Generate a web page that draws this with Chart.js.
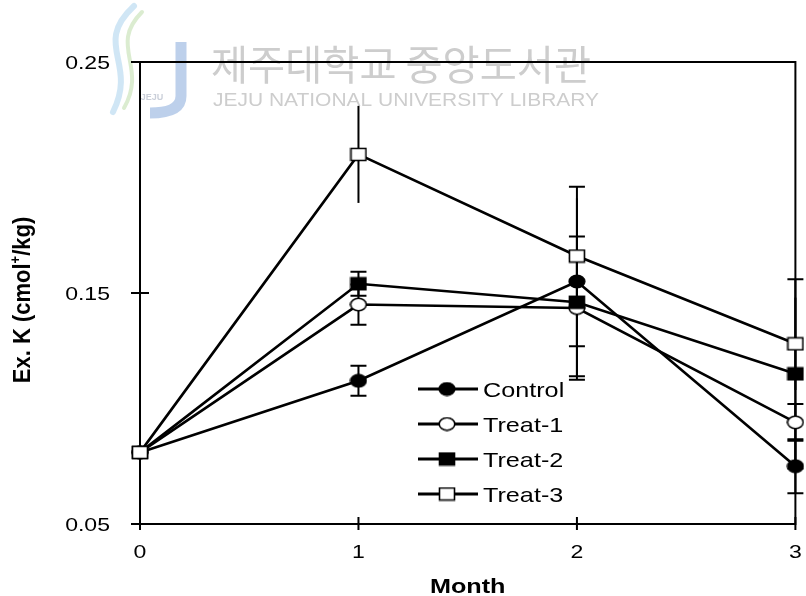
<!DOCTYPE html>
<html>
<head>
<meta charset="utf-8">
<script src="https://cdn.jsdelivr.net/npm/chart.js@4/dist/chart.umd.min.js"></script>
<style>
  html, body { margin: 0; padding: 0; background: #fff; }
  canvas { display: block; }
</style>
</head>
<body>
<canvas id="chart" width="806" height="596"></canvas>
<script>
// Exchangeable K over time, by treatment
const months = [0, 1, 2, 3];
const xTicks = [0, 1, 2, 3];
const yTicks = [0.05, 0.15, 0.25];

const control = [0.081, 0.112, 0.155, 0.075];
const treat1  = [0.081, 0.145, 0.1435, 0.094];
const treat2  = [0.081, 0.154, 0.146, 0.115];
const treat3  = [0.081, 0.210, 0.166, 0.128];

// standard errors
const controlErr = [0, 0.0065, 0.041, 0.0117];
const treat1Err  = [0, 0.0087, 0.031, 0.008];
const treat2Err  = [0, 0.0052, 0.019, 0.041];
const treat3Err  = [0, 0.021, 0.025, 0.02];

const seriesNames = ['Control', 'Treat-1', 'Treat-2', 'Treat-3'];
const xTitle = 'Month';
const yTitleMain = 'Ex. K (cmol';
const yTitleSup = '+';
const yTitleEnd = '/kg)';
const libraryName = '제주대학교 중앙도서관';
const libraryNameEn = 'JEJU NATIONAL UNIVERSITY LIBRARY';

const FONT = '"Liberation Sans", Arial, Helvetica, sans-serif';

// marker bitmaps (slightly wide ellipses / boxes)
function makeMarker(shape, filled) {
  const c = document.createElement('canvas');
  c.width = 18; c.height = 15;
  const g = c.getContext('2d');
  g.lineWidth = 1.6;
  g.strokeStyle = '#000';
  g.fillStyle = filled ? '#000' : '#fff';
  g.beginPath();
  if (shape === 'circle') g.ellipse(9, 7.5, 7.8, 6.2, 0, 0, Math.PI * 2);
  else g.rect(1.5, 1.5, 15, 12);
  g.fill();
  g.stroke();
  return c;
}

const markers = [
  makeMarker('circle', true),
  makeMarker('circle', false),
  makeMarker('rect', true),
  makeMarker('rect', false)
];
const values = [control, treat1, treat2, treat3];
const errors = [controlErr, treat1Err, treat2Err, treat3Err];
const hasCaps = [true, true, true, false];
const drawOrder = [3, 2, 1, 0];

const datasets = seriesNames.map((name, k) => ({
  label: name,
  data: months.map((m, i) => ({ x: m, y: values[k][i] })),
  errors: errors[k],
  caps: hasCaps[k],
  marker: markers[k],
  borderColor: '#000',
  borderWidth: 2.6,
  pointStyle: markers[k],
  pointRadius: 8,
  pointHoverRadius: 8,
  tension: 0,
  fill: false,
  clip: false,
  order: drawOrder[k]
}));

function stretchedText(ctx, text, x, y, font, align, sx) {
  ctx.save();
  ctx.font = font;
  ctx.textAlign = align;
  ctx.textBaseline = 'alphabetic';
  ctx.fillStyle = '#000';
  ctx.translate(x, y);
  ctx.scale(sx, 1);
  ctx.fillText(text, 0, 0);
  ctx.restore();
}

// faint library mark behind the plot
const watermark = {
  id: 'watermark',
  beforeDraw(chart) {
    const g = chart.ctx;
    g.save();
    g.lineCap = 'round';
    g.strokeStyle = 'rgba(150,200,232,0.45)';
    g.lineWidth = 6;
    g.beginPath(); g.moveTo(134, 6); g.bezierCurveTo(92, 45, 138, 62, 113, 112); g.stroke();
    g.strokeStyle = 'rgba(175,212,150,0.45)';
    g.lineWidth = 4;
    g.beginPath(); g.moveTo(142, 12); g.bezierCurveTo(108, 46, 148, 66, 124, 108); g.stroke();
    g.strokeStyle = 'rgba(135,170,218,0.55)';
    g.lineWidth = 11;
    g.lineCap = 'butt';
    g.beginPath(); g.moveTo(181, 42); g.lineTo(181, 96); g.quadraticCurveTo(181, 113, 150, 113); g.stroke();
    g.fillStyle = 'rgba(150,160,180,0.5)';
    g.font = 'bold 9px ' + FONT;
    g.textAlign = 'center';
    g.fillText('JEJU', 152, 100);

    g.fillStyle = '#cdcdcd';
    g.font = '41px "Noto Sans CJK KR", sans-serif';
    g.textAlign = 'left';
    g.textBaseline = 'alphabetic';
    const w1 = g.measureText(libraryName).width;
    g.save(); g.translate(211, 80); g.scale(380 / w1, 1); g.fillText(libraryName, 0, 0); g.restore();
    g.font = '18px ' + FONT;
    const w2 = g.measureText(libraryNameEn).width;
    g.save(); g.translate(213, 106); g.scale(386 / w2, 1); g.fillText(libraryNameEn, 0, 0); g.restore();
    g.restore();
  }
};

// axes box, tick marks and error bars under the series
const frameAndErrors = {
  id: 'frameAndErrors',
  beforeDatasetsDraw(chart) {
    const g = chart.ctx;
    const { left, right, top, bottom } = chart.chartArea;
    const xs = chart.scales.x, ys = chart.scales.y;
    g.save();
    g.strokeStyle = '#000';
    g.lineWidth = 2;
    g.strokeRect(left, top, right - left, bottom - top);
    g.beginPath();
    yTicks.forEach(v => {
      const y = ys.getPixelForValue(v);
      g.moveTo(left - 9, y); g.lineTo(left + 9, y);
    });
    xTicks.forEach(v => {
      const x = xs.getPixelForValue(v);
      g.moveTo(x, bottom - 7); g.lineTo(x, bottom + 6);
    });
    g.stroke();

    chart.data.datasets.forEach(ds => {
      ds.data.forEach((p, i) => {
        const e = ds.errors[i];
        if (!e) return;
        const x = xs.getPixelForValue(p.x);
        const y1 = ys.getPixelForValue(p.y + e);
        const y2 = ys.getPixelForValue(p.y - e);
        g.beginPath();
        g.moveTo(x, y1); g.lineTo(x, y2);
        if (ds.caps) {
          g.moveTo(x - 8, y1); g.lineTo(x + 8, y1);
          g.moveTo(x - 8, y2); g.lineTo(x + 8, y2);
        }
        g.stroke();
      });
    });
    g.restore();
  }
};

// tick labels, axis titles and the legend
const labels = {
  id: 'labels',
  afterDraw(chart) {
    const g = chart.ctx;
    const { left, right } = chart.chartArea;
    const xs = chart.scales.x, ys = chart.scales.y;
    yTicks.forEach(v => {
      stretchedText(g, v.toFixed(2), left - 30, ys.getPixelForValue(v) + 7, '18px ' + FONT, 'right', 1.28);
    });
    xTicks.forEach(v => {
      stretchedText(g, String(v), xs.getPixelForValue(v), 558, '18px ' + FONT, 'center', 1.28);
    });
    stretchedText(g, xTitle, (left + right) / 2, 593, 'bold 21px ' + FONT, 'center', 1.2);

    // y title, rotated, with superscript plus
    g.save();
    g.fillStyle = '#000';
    g.textBaseline = 'alphabetic';
    g.textAlign = 'left';
    const fMain = 'bold 22px ' + FONT, fSup = 'bold 13px ' + FONT;
    g.font = fMain;
    const wA = g.measureText(yTitleMain).width, wC = g.measureText(yTitleEnd).width;
    g.font = fSup;
    const wB = g.measureText(yTitleSup).width;
    const total = wA + wB + wC;
    g.translate(30, 300);
    g.rotate(-Math.PI / 2);
    g.scale(1, 1.1);
    let cx = -total / 2;
    g.font = fMain; g.fillText(yTitleMain, cx, 0); cx += wA;
    g.font = fSup; g.fillText(yTitleSup, cx, -9); cx += wB;
    g.font = fMain; g.fillText(yTitleEnd, cx, 0);
    g.restore();

    // legend
    g.save();
    chart.data.datasets.forEach((ds, k) => {
      const y = 389 + k * 35;
      g.strokeStyle = '#000';
      g.lineWidth = 3;
      g.beginPath(); g.moveTo(418, y); g.lineTo(478, y); g.stroke();
      g.drawImage(ds.marker, 447 - ds.marker.width / 2, y - ds.marker.height / 2);
      stretchedText(g, ds.label, 483, y + 7.5, '21px ' + FONT, 'left', 1.2);
    });
    g.restore();
  }
};

new Chart(document.getElementById('chart'), {
  type: 'line',
  data: { datasets },
  options: {
    responsive: false,
    animation: false,
    events: [],
    layout: { padding: { top: 62, right: 6, left: 0, bottom: 0 } },
    plugins: { legend: { display: false }, tooltip: { enabled: false } },
    scales: {
      x: {
        type: 'linear', min: 0, max: 3,
        afterBuildTicks: s => { s.ticks = xTicks.map(v => ({ value: v })); },
        afterFit: s => { s.height = 72; },
        grid: { display: false, drawTicks: false },
        border: { display: false },
        ticks: { display: false }
      },
      y: {
        type: 'linear', min: 0.05, max: 0.25,
        afterBuildTicks: s => { s.ticks = yTicks.map(v => ({ value: v })); },
        afterFit: s => { s.width = 140; },
        grid: { display: false, drawTicks: false },
        border: { display: false },
        ticks: { display: false }
      }
    }
  },
  plugins: [watermark, frameAndErrors, labels]
});
</script>
</body>
</html>
